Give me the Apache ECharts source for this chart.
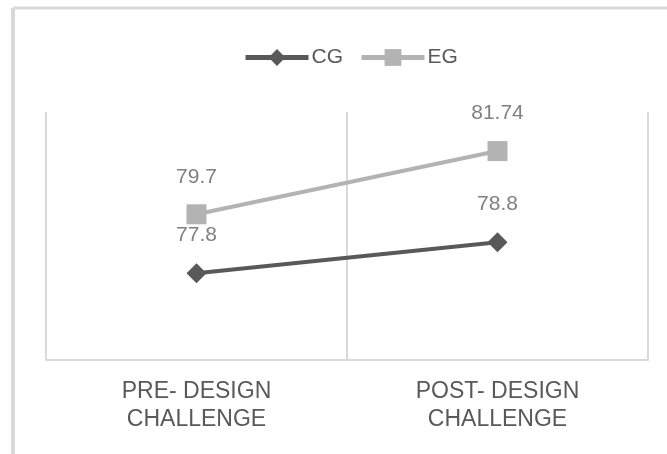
<!DOCTYPE html>
<html>
<head>
<meta charset="utf-8">
<script src="https://cdn.jsdelivr.net/npm/echarts@6/dist/echarts.min.js"></script>
<style>
  html, body { margin: 0; padding: 0; background: #fff; }
  #chart { width: 667px; height: 454px; }
</style>
</head>
<body>
<div id="chart"></div>
<script>
var categories = ['PRE- DESIGN\nCHALLENGE', 'POST- DESIGN\nCHALLENGE'];
var cgValues = [77.8, 78.8];
var egValues = [79.7, 81.74];
var seriesNames = ['CG', 'EG'];

var chart = echarts.init(document.getElementById('chart'));

// 数据标签样式
var labelStyle = {
    show: true,
    position: 'top',
    distance: 17,
    color: '#808080',
    fontSize: 21,
    fontFamily: 'Liberation Sans, sans-serif'
};

var option = {
    animation: false,
    backgroundColor: '#fff',
    graphic: [
        // 外边框（上、左）
        { type: 'line', shape: { x1: 13, y1: 8, x2: 667, y2: 8 }, style: { stroke: '#d9d9d9', lineWidth: 3 } },
        { type: 'line', shape: { x1: 13, y1: 8, x2: 13, y2: 454 }, style: { stroke: '#d9d9d9', lineWidth: 4 } }
    ],
    legend: {
        data: seriesNames,
        top: 42,
        left: 238,
        itemWidth: 63,
        itemHeight: 21,
        itemGap: 16,
        lineStyle: { width: 5 },
        textStyle: {
            color: '#595959',
            fontSize: 21,
            fontFamily: 'Liberation Sans, sans-serif',
            padding: [0, 0, 0, -2]
        }
    },
    grid: {
        left: 46,
        right: 19,
        top: 112,
        bottom: 94
    },
    xAxis: {
        type: 'category',
        data: categories,
        boundaryGap: true,
        axisLine: { lineStyle: { color: '#d9d9d9', width: 2 } },
        axisTick: { show: false },
        splitLine: { show: true, lineStyle: { color: '#d9d9d9', width: 2 } },
        axisLabel: {
            color: '#595959',
            fontSize: 23,
            lineHeight: 28,
            margin: 18,
            fontFamily: 'Liberation Sans, sans-serif'
        }
    },
    yAxis: {
        type: 'value',
        min: 75,
        max: 83,
        show: false,
        splitLine: { show: false }
    },
    series: [
        {
            name: 'CG',
            type: 'line',
            data: cgValues,
            symbol: 'diamond',
            symbolSize: 20,
            color: '#595959',
            lineStyle: { color: '#595959', width: 4 },
            itemStyle: { color: '#595959' },
            label: labelStyle
        },
        {
            name: 'EG',
            type: 'line',
            data: egValues,
            symbol: 'rect',
            symbolSize: 20,
            color: '#b3b3b3',
            lineStyle: { color: '#b3b3b3', width: 4 },
            itemStyle: { color: '#b3b3b3' },
            label: labelStyle
        }
    ]
};

chart.setOption(option);
</script>
</body>
</html>
